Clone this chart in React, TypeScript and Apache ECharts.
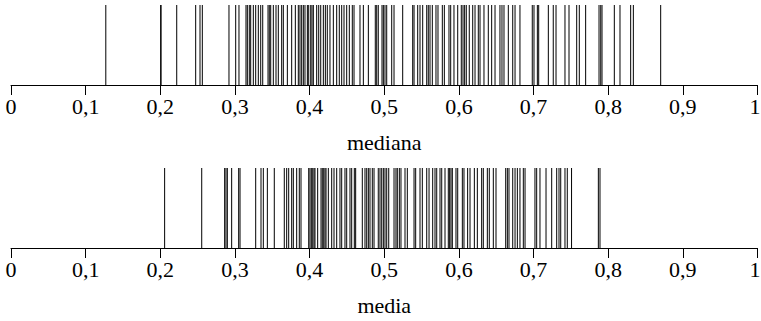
import React, { useEffect, useRef } from "react";
import * as echarts from "echarts";

const medianaValues: number[] = [
  0.127, 0.2005, 0.201, 0.222, 0.2474, 0.2532, 0.2563,
  0.292, 0.301, 0.3054, 0.3148, 0.3166, 0.3192, 0.3211, 0.3246, 0.3278, 0.3313, 0.3345, 0.3372,
  0.3443, 0.346, 0.3479, 0.3514, 0.355, 0.3581, 0.3626, 0.3648, 0.3702, 0.376, 0.3809,
  0.3849, 0.3871, 0.3894, 0.3916, 0.3938, 0.397, 0.3988, 0.4015, 0.4032, 0.405,
  0.4095, 0.4122, 0.4149, 0.4184, 0.4211, 0.4237, 0.4273, 0.4318, 0.4363, 0.4398,
  0.443, 0.4461, 0.4497, 0.4532, 0.4572, 0.4595, 0.4675, 0.472, 0.4787,
  0.488, 0.4899, 0.492, 0.497, 0.4988, 0.501, 0.5033,
  0.51, 0.5131, 0.5247, 0.5381, 0.5399, 0.5448, 0.5479, 0.5515, 0.5569, 0.559, 0.5613,
  0.5644, 0.5693, 0.572, 0.5778, 0.5805, 0.5867, 0.589, 0.5934, 0.5984,
  0.6032, 0.6055, 0.6077, 0.6099, 0.6139, 0.6185, 0.6216, 0.626, 0.6283, 0.6336,
  0.6394, 0.6439, 0.6484, 0.655, 0.6577, 0.6604, 0.6662, 0.6721, 0.6752, 0.6818,
  0.6983, 0.7006, 0.7051, 0.7069, 0.7198, 0.7264, 0.7301, 0.7421, 0.7475, 0.7578,
  0.7613, 0.7698, 0.7877, 0.79, 0.7917, 0.8082, 0.8158, 0.8301, 0.8337, 0.8703,
];

const mediaValues: number[] = [
  0.2058, 0.2555, 0.2862, 0.288, 0.2898, 0.2956, 0.305, 0.3068, 0.3278, 0.3349, 0.338,
  0.3434, 0.3527, 0.3661, 0.3693, 0.372, 0.376, 0.3782, 0.3827, 0.3862, 0.3885,
  0.3988, 0.4005, 0.4023, 0.4042, 0.4059, 0.4072, 0.4108, 0.4153, 0.417, 0.4189, 0.4206, 0.422,
  0.4251, 0.4296, 0.4327, 0.4363, 0.4407, 0.443, 0.4474, 0.4497, 0.4541, 0.4564, 0.4599, 0.4617,
  0.4706, 0.4742, 0.4765, 0.4787, 0.4809, 0.484, 0.4863,
  0.492, 0.4943, 0.4966, 0.4988, 0.501, 0.5033, 0.506,
  0.5131, 0.5157, 0.5175, 0.5202, 0.5224, 0.5278, 0.5309, 0.5399, 0.5421, 0.5479, 0.551,
  0.5569, 0.56, 0.5649, 0.568, 0.5703, 0.5747, 0.577, 0.5814, 0.5858, 0.5876, 0.5894, 0.5912,
  0.5961, 0.5984, 0.6046, 0.6068, 0.6117, 0.6149, 0.6207, 0.6247, 0.6305, 0.6327,
  0.6381, 0.6407, 0.6461, 0.6497, 0.6627, 0.6649, 0.6671, 0.6721, 0.6752, 0.6783,
  0.6818, 0.6863, 0.6886, 0.7019, 0.7042, 0.7086, 0.7167, 0.7243, 0.731, 0.7341, 0.7364,
  0.7421, 0.7452, 0.7509, 0.7868, 0.789,
];

const axisNames: string[] = ["mediana", "media"];

const FONT = "'Liberation Serif', serif";

function makeXAxis(gridIndex: number, name: string) {
  return {
    type: "value" as const,
    gridIndex,
    min: 0,
    max: 1,
    interval: 0.1,
    name,
    nameLocation: "middle" as const,
    nameGap: 46,
    nameTextStyle: { fontFamily: FONT, fontSize: 22, color: "#000" },
    axisLine: { show: true, lineStyle: { color: "#000", width: 1 } },
    axisTick: { show: true, length: 10, lineStyle: { color: "#000", width: 1 } },
    splitLine: { show: false },
    axisLabel: {
      fontFamily: FONT,
      fontSize: 22,
      color: "#000",
      margin: 10,
      formatter: (v: number) => {
        const s = String(Math.round(v * 10) / 10).replace(".", ",");
        return v >= 1 ? "{edge|" + s + "}" : s;
      },
      rich: {
        edge: { fontFamily: FONT, fontSize: 22, color: "#000", padding: [0, 5, 0, 0] },
      },
    },
  };
}

function makeYAxis(gridIndex: number) {
  return {
    type: "value" as const,
    gridIndex,
    min: 0,
    max: 1,
    show: false,
  };
}

const renderRug = (_params: any, api: any) => {
  const v = api.value(0);
  const p0 = api.coord([v, 0]);
  const p1 = api.coord([v, 1]);
  return {
    type: "line",
    shape: { x1: p0[0], y1: p0[1], x2: p1[0], y2: p1[1] },
    style: { stroke: "#000", lineWidth: 1 },
  };
};

export default function App() {
  const ref = useRef<HTMLDivElement>(null);
  useEffect(() => {
    if (!ref.current) return;
    const chart = echarts.init(ref.current, undefined, { renderer: "svg" });
    chart.setOption({
      animation: false,
      backgroundColor: "#fff",
      grid: [
        { left: 11, right: 3.5, top: 5, height: 80, outerBoundsMode: "none", containLabel: false },
        { left: 11, right: 3.5, top: 168, height: 80, outerBoundsMode: "none", containLabel: false },
      ],
      xAxis: [makeXAxis(0, axisNames[0]), makeXAxis(1, axisNames[1])],
      yAxis: [makeYAxis(0), makeYAxis(1)],
      series: [
        {
          type: "custom",
          xAxisIndex: 0,
          yAxisIndex: 0,
          renderItem: renderRug,
          encode: { x: 0 },
          data: medianaValues.map((v) => [v]),
          clip: false,
        },
        {
          type: "custom",
          xAxisIndex: 1,
          yAxisIndex: 1,
          renderItem: renderRug,
          encode: { x: 0 },
          data: mediaValues.map((v) => [v]),
          clip: false,
        },
      ],
    });
    return () => chart.dispose();
  }, []);
  return (
    <div
      ref={ref}
      style={{ position: "absolute", left: 0, top: 0, width: 761, height: 321 }}
    />
  );
}
